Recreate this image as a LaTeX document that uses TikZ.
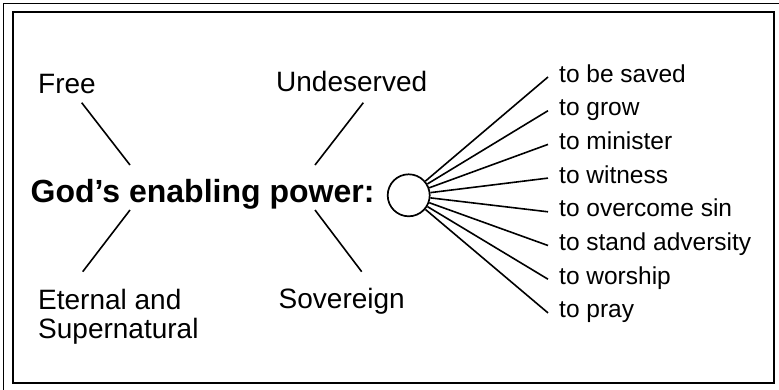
\documentclass[tikz,border=0pt]{standalone}
\usepackage{fontspec}
\setmainfont{Liberation Sans}
\begin{document}
\begin{tikzpicture}[x=1pt,y=-1pt,
  lbl/.style={anchor=base west, inner sep=0pt, font=\fontsize{28}{28.5}\selectfont},
  title/.style={anchor=base west, inner sep=0pt, font=\fontsize{32}{34}\selectfont\bfseries},
  item/.style={anchor=base west, inner xsep=11pt, inner ysep=0pt, font=\fontsize{24.5}{28}\selectfont},
  conn/.style={line width=1.6pt},
  frame/.style={line width=1.8pt}]
\useasboundingbox (0,0) rectangle (779,389);
\draw[frame] (3.5,3.5) rectangle (790,400);
\draw[frame] (12.7,11.7) rectangle (774.3,383.3);

\node[lbl] (free) at (38,93) {Free};
\node[lbl] (und) at (276,91) {Undeserved};
\node[title] (god) at (30.5,202) {God’s enabling power:};
\node[lbl, align=left] (eter) at (38,338) {Eternal and\\Supernatural};
\node[lbl] (sov) at (278.5,308) {Sovereign};

\coordinate (fa) at (81.7,102.7);
\coordinate (fb) at (130,165);
\coordinate (ua) at (363.3,102.7);
\coordinate (ub) at (315,165);
\coordinate (ea) at (130,210);
\coordinate (eb) at (82.7,271.7);
\coordinate (sa) at (315,210);
\coordinate (sb) at (361.7,271.7);
\draw[conn] (fa) -- (fb);
\draw[conn] (ua) -- (ub);
\draw[conn] (ea) -- (eb);
\draw[conn] (sa) -- (sb);

\node[circle, draw, line width=1.7pt, minimum size=42pt, inner sep=0pt] (c) at (408.7,195.3) {};

\node[item] (t1) at (548,82) {to be saved};
\node[item] (t2) at (548,115.7) {to grow};
\node[item] (t3) at (548,149.4) {to minister};
\node[item] (t4) at (548,183.1) {to witness};
\node[item] (t5) at (548,216.8) {to overcome sin};
\node[item] (t6) at (548,250.5) {to stand adversity};
\node[item] (t7) at (548,284.2) {to worship};
\node[item] (t8) at (548,317.9) {to pray};
\foreach \i in {1,...,8}
  \draw[conn] (c) -- ([yshift=5pt]t\i.base west);
\end{tikzpicture}
\end{document}
